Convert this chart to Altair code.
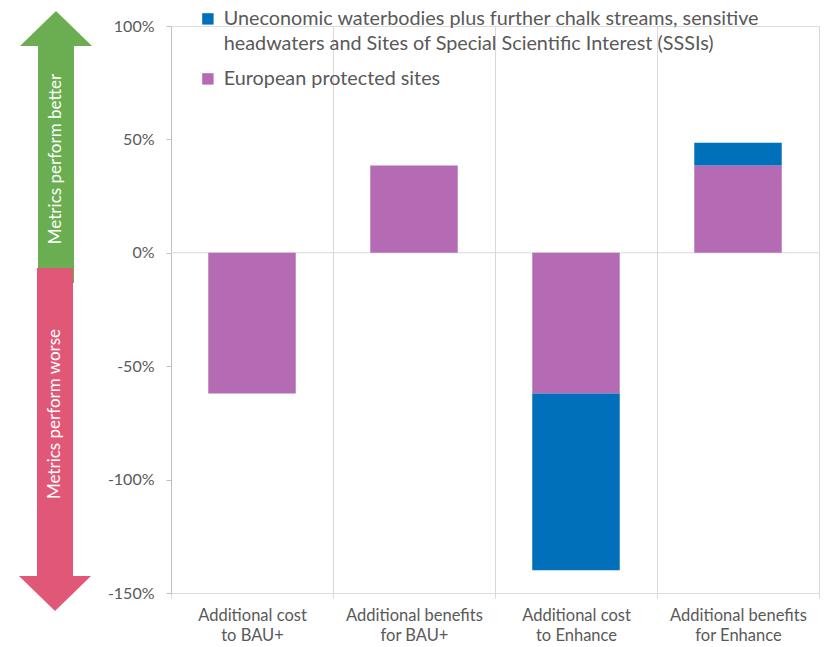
import altair as alt
import pandas as pd

categories = [
    "Additional cost to BAU+",
    "Additional benefits for BAU+",
    "Additional cost to Enhance",
    "Additional benefits for Enhance",
]
series = [
    "Uneconomic waterbodies plus further chalk streams, sensitive headwaters and Sites of Special Scientific Interest (SSSIs)",
    "European protected sites",
]
series_colors = ["#0070BA", "#B56BB3"]
european_values = [-62, 38.5, -62, 38.5]
uneconomic_values = [0, 0, -78, 10]
y_ticks = [-150, -100, -50, 0, 50, 100]

rows = []
for c, e, u in zip(categories, european_values, uneconomic_values):
    rows.append({"category": c, "series": series[1], "value": e, "ord": 0})
    rows.append({"category": c, "series": series[0], "value": u, "ord": 1})
df = pd.DataFrame(rows)

FONT = "Lato"
GRID = "#D9D9D9"
TXT = "#595959"
W, H = 648, 567

bars = alt.Chart(df).mark_bar(width={"band": 0.54}).encode(
    x=alt.X(
        "category:N",
        sort=categories,
        scale=alt.Scale(paddingInner=0, paddingOuter=0),
        axis=alt.Axis(
            title=None,
            labelAngle=0,
            labelExpr="[join(slice(split(datum.label,' '),0,2),' '), join(slice(split(datum.label,' '),2),' ')]",
            labelFontSize=16.5,
            labelColor=TXT,
            labelFont=FONT,
            labelLineHeight=20,
            labelPadding=9,
            domain=False,
            grid=True,
            gridColor=GRID,
            tickBand="extent",
            tickColor=GRID,
            tickSize=5,
        ),
    ),
    y=alt.Y(
        "value:Q",
        stack="zero",
        scale=alt.Scale(domain=[-150, 100], nice=False),
        axis=alt.Axis(
            title=None,
            values=y_ticks,
            labelExpr="datum.value + '%'",
            labelFontSize=16,
            labelColor=TXT,
            labelFont=FONT,
            labelPadding=12,
            grid=False,
            domainColor="#BFBFBF",
            tickColor="#BFBFBF",
            tickSize=5,
        ),
    ),
    color=alt.Color(
        "series:N",
        scale=alt.Scale(domain=series, range=series_colors),
        legend=alt.Legend(
            title=None,
            orient="none",
            legendX=27,
            legendY=-17,
            symbolType="square",
            symbolSize=130,
            symbolStrokeWidth=0,
            labelFontSize=19.8,
            labelFont=FONT,
            labelColor=TXT,
            labelLimit=1000,
            labelOffset=6,
            rowPadding=14,
            labelExpr="split(replace(datum.label, 'sensitive ', 'sensitive|'), '|')",
        ),
    ),
    order=alt.Order("ord:Q"),
)

zero = alt.Chart(pd.DataFrame({"z": [0]})).mark_rule(color=GRID, strokeWidth=1).encode(
    y=alt.datum(0)
)

one = pd.DataFrame({"a": [0]})
green_body = alt.Chart(one).mark_rect(color="#6BAE52").encode(
    x=alt.value(-133), x2=alt.value(-97), y=alt.value(19), y2=alt.value(257)
)
green_head = alt.Chart(one).mark_point(
    shape="M0,-0.486L1,0.486L-1,0.486Z", filled=True, color="#6BAE52", opacity=1, size=5184
).encode(x=alt.value(-115), y=alt.value(2.5))
pink_body = alt.Chart(one).mark_rect(color="#E15777").encode(
    x=alt.value(-134), x2=alt.value(-98), y=alt.value(242), y2=alt.value(551)
)
pink_head = alt.Chart(one).mark_point(
    shape="M0,0.486L1,-0.486L-1,-0.486Z", filled=True, color="#E15777", opacity=1, size=5184
).encode(x=alt.value(-116), y=alt.value(567.5))
txt_better = alt.Chart(one).mark_text(
    text="Metrics perform better", angle=270, color="white", fontSize=17, font=FONT,
    align="center", baseline="middle"
).encode(x=alt.value(-115), y=alt.value(133))
txt_worse = alt.Chart(one).mark_text(
    text="Metrics perform worse", angle=270, color="white", fontSize=17, font=FONT,
    align="center", baseline="middle"
).encode(x=alt.value(-116), y=alt.value(388))

chart = alt.layer(
    zero, bars, green_body, green_head, pink_body, pink_head, txt_better, txt_worse
).properties(
    width=W, height=H,
    padding={"left": 11, "top": 1, "right": 0, "bottom": 5},
).configure_view(stroke=None).configure(
    font=FONT, style={"guide-label": {"lineHeight": 25}}
)

chart.save("out.html", embed_options={"renderer": "svg", "actions": False})
